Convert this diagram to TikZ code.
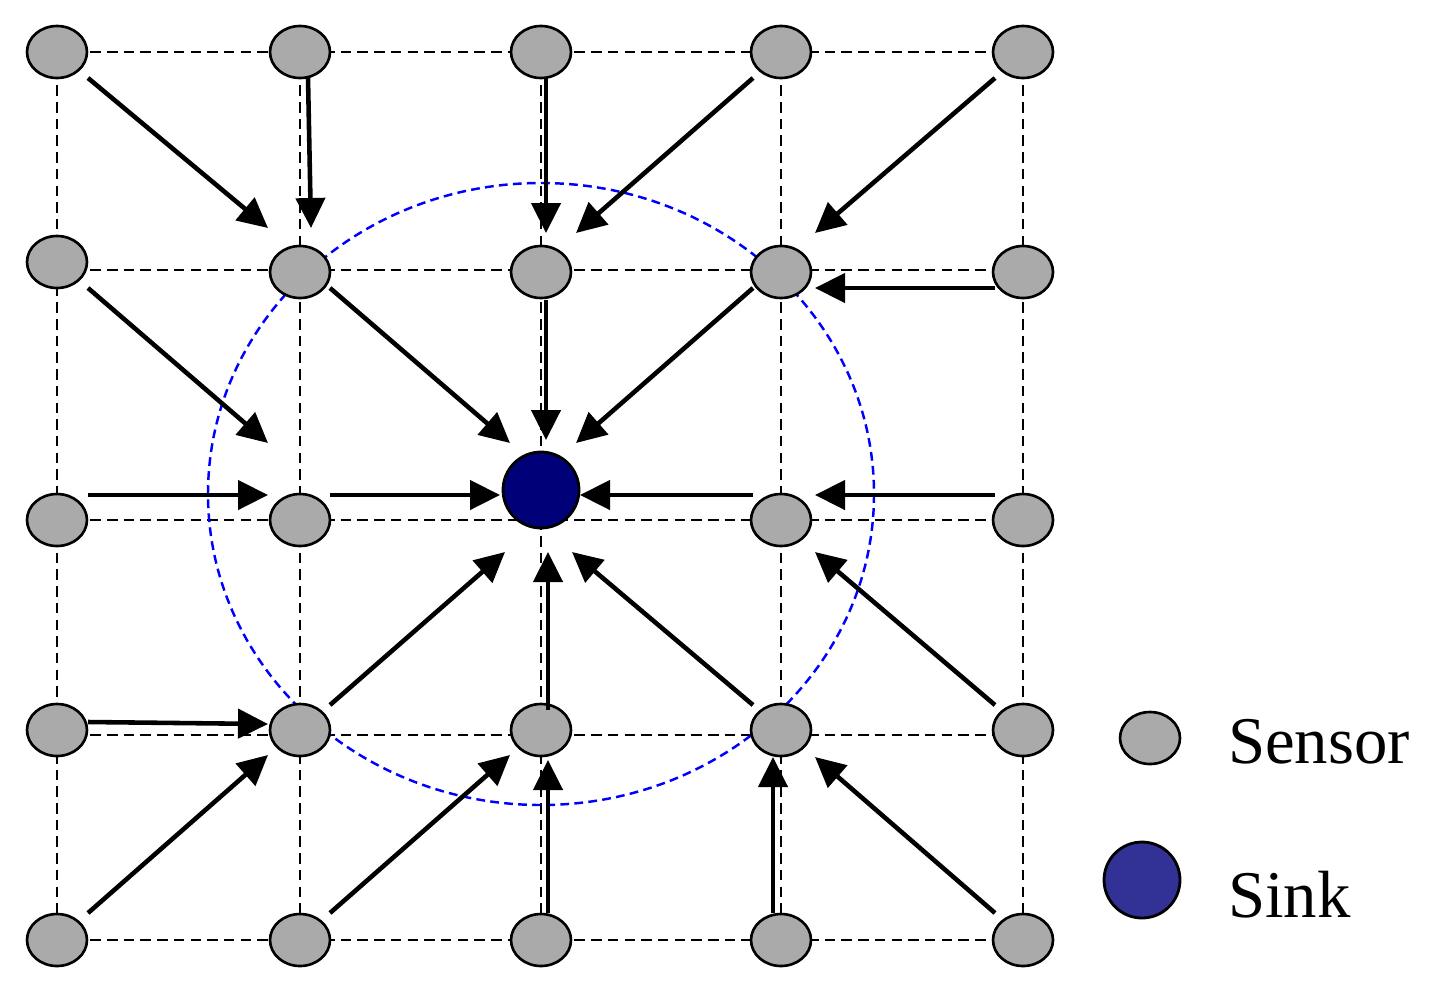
\documentclass[tikz,border=0pt]{standalone}
\usepackage{fontspec}
\setmainfont{Liberation Serif}
\usetikzlibrary{shapes.geometric,arrows.meta}
\definecolor{sens}{RGB}{170,170,170}
\definecolor{sinkc}{RGB}{0,0,120}
\definecolor{sinkl}{RGB}{50,50,150}
\begin{document}
\begin{tikzpicture}[x=0.02cm,y=-0.02cm,
 sensor/.style={ellipse,draw,line width=1.5pt,fill=sens,minimum width=1.2cm,minimum height=1.04cm,inner sep=0pt},
 grid/.style={line width=1.3pt,dash pattern=on 6pt off 3.5pt},
 arr/.style={line width=2.6pt,-{Triangle[length=0.6cm,width=0.58cm]}},
 lbl/.style={font=\fontsize{38pt}{40pt}\selectfont,anchor=west}]
\useasboundingbox (0,0) rectangle (1435,994);
% grid lines
\foreach \y in {52,270,520,735,940} \draw[grid] (57,\y) -- (1023,\y);
\foreach \x in {57,300,541,781,1023} \draw[grid] (\x,52) -- (\x,940);
% blue circle
\draw[blue,line width=1.4pt,dash pattern=on 5pt off 3pt] (541,494) ellipse [x radius=333,y radius=311];
% nodes
\foreach \x[count=\c] in {57,300,541,781,1023}{
  \node[sensor] (n\c1) at (\x,52) {};
  \node[sensor] (n\c4) at (\x,730) {};
  \node[sensor] (n\c5) at (\x,940) {};
}
\node[sensor] (n12) at (57,262) {};
\foreach \x[count=\c from 2] in {300,541,781,1023} \node[sensor] (n\c2) at (\x,272) {};
\foreach \x[count=\c] in {57,300} \node[sensor] (n\c3) at (\x,520) {};
\foreach \x[count=\c from 4] in {781,1023} \node[sensor] (n\c3) at (\x,520) {};
\node[circle,draw,line width=1.6pt,fill=sinkc,minimum size=1.52cm,inner sep=0pt] (sink) at (541,490) {};
% arrows
\foreach \a/\b/\c/\d in {88/78/268/228, 308/78/311/228, 546/78/546/233, 753/78/576/233, 995/78/815/233,
 88/288/268/443, 330/288/510/443, 546/300/546/440, 753/288/576/443, 995/288/815/288,
 88/495/268/495, 330/495/500/495, 753/495/580/495, 995/495/815/495,
 330/705/505/552, 548/710/548/552, 753/705/572/552, 995/705/815/552,
 88/722/268/724, 88/913/268/755, 330/913/510/755, 548/913/548/760, 773/913/773/757, 995/913/815/757}
 \draw[arr] (\a,\b) -- (\c,\d);
% legend
\node[sensor] (ls) at (1150,738) {};
\node[lbl] (lst) at (1222,742) {Sensor};
\node[circle,draw,line width=1.6pt,fill=sinkl,minimum size=1.52cm,inner sep=0pt] (lk) at (1142,880) {};
\node[lbl] (lkt) at (1222,895) {Sink};
\end{tikzpicture}
\end{document}
